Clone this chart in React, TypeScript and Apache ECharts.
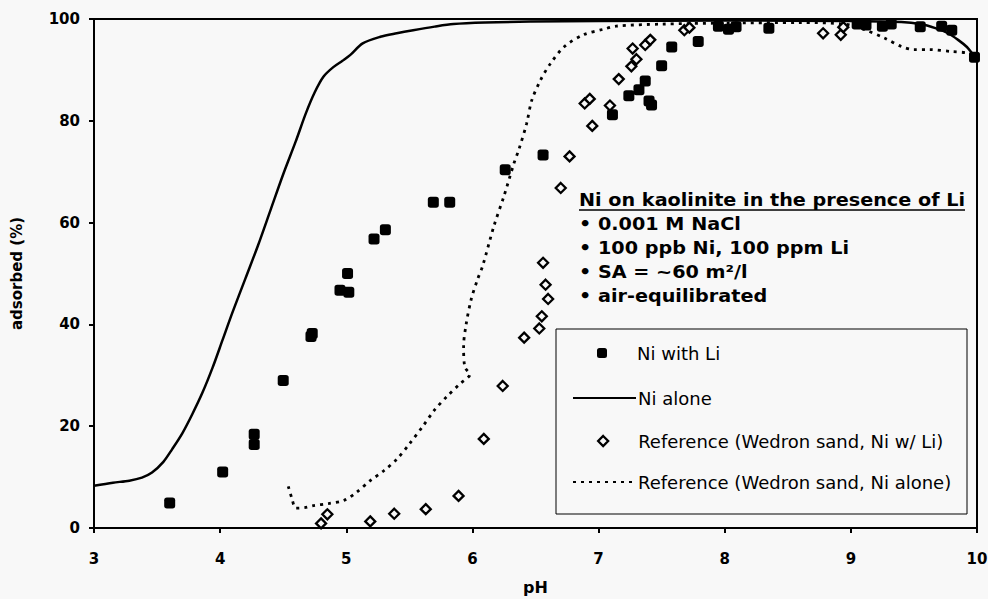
import React, { useEffect, useRef } from "react";
import * as echarts from "echarts";

const xTicks = [3, 4, 5, 6, 7, 8, 9, 10];
const yTicks = [0, 20, 40, 60, 80, 100];

const seriesNames = [
  "Ni with Li",
  "Ni alone",
  "Reference (Wedron sand, Ni w/ Li)",
  "Reference (Wedron sand, Ni alone)",
];

const niWithLi: [number, number][] = [
  [3.6, 4.9], [4.02, 11.0], [4.27, 18.4], [4.27, 16.4], [4.5, 29.0],
  [4.72, 37.6], [4.73, 38.2], [4.95, 46.7], [5.01, 50.0], [5.02, 46.3],
  [5.22, 56.8], [5.31, 58.6], [5.69, 64.0], [5.82, 64.0], [6.26, 70.4],
  [6.56, 73.3], [7.11, 81.2], [7.24, 84.9], [7.32, 86.1], [7.37, 87.8],
  [7.4, 83.9], [7.42, 83.1], [7.5, 90.8], [7.58, 94.5], [7.79, 95.6],
  [7.95, 98.6], [8.03, 98.0], [8.09, 98.5], [8.35, 98.2], [9.05, 99.0],
  [9.12, 98.8], [9.25, 98.6], [9.32, 99.0], [9.55, 98.5], [9.72, 98.6],
  [9.8, 97.8], [9.98, 92.5],
];

const niAlone: [number, number][] = [
  [3.0, 8.3], [3.15, 8.9], [3.28, 9.3], [3.38, 9.9], [3.46, 10.9],
  [3.55, 13.0], [3.62, 15.5], [3.7, 18.6], [3.78, 22.4], [3.86, 26.6],
  [3.94, 31.5], [4.02, 37.0], [4.1, 42.5], [4.2, 49.0], [4.3, 55.5],
  [4.4, 62.5], [4.5, 69.5], [4.6, 76.0], [4.68, 81.5], [4.75, 85.6],
  [4.82, 88.7], [4.9, 90.6], [4.97, 91.8], [5.03, 92.9], [5.13, 95.2],
  [5.27, 96.5], [5.4, 97.2], [5.53, 97.8], [5.7, 98.5], [5.85, 99.0],
  [6.1, 99.3], [6.46, 99.5], [7.0, 99.6], [8.0, 99.7], [9.0, 99.6],
  [9.4, 99.4], [9.55, 99.0], [9.67, 98.2], [9.77, 97.2], [9.85, 95.9],
  [9.92, 94.5], [9.96, 93.3], [10.0, 92.3],
];

const refWithLi: [number, number][] = [
  [4.8, 0.9], [4.85, 2.7], [5.19, 1.3], [5.38, 2.8], [5.63, 3.7],
  [5.89, 6.3], [6.09, 17.5], [6.24, 27.9], [6.41, 37.4], [6.53, 39.2],
  [6.55, 41.6], [6.6, 45.0], [6.58, 47.8], [6.56, 52.1], [6.7, 66.8],
  [6.77, 73.0], [6.95, 79.0], [6.89, 83.4], [6.93, 84.3], [7.09, 83.0],
  [7.16, 88.2], [7.26, 90.7], [7.3, 92.1], [7.27, 94.2], [7.37, 94.9],
  [7.41, 95.9], [7.68, 97.8], [7.72, 98.3], [8.78, 97.2], [8.92, 96.9],
  [8.94, 98.4],
];

const refAlone: [number, number][] = [
  [4.54, 8.2], [4.57, 5.7], [4.6, 3.9], [4.67, 4.0], [4.74, 4.4],
  [4.86, 4.8], [4.98, 5.4], [5.08, 7.0], [5.19, 9.3], [5.3, 11.3],
  [5.4, 13.5], [5.5, 16.5], [5.61, 20.1], [5.7, 23.2], [5.8, 25.9],
  [5.9, 28.3], [5.98, 30.2], [5.94, 31.6], [5.93, 35.7], [5.95, 40.0],
  [5.99, 44.9], [6.04, 48.8], [6.08, 51.4], [6.17, 59.3], [6.25, 65.2],
  [6.33, 71.7], [6.37, 74.5], [6.43, 79.5], [6.47, 84.0], [6.54, 88.0],
  [6.62, 91.3], [6.73, 94.6], [6.88, 96.9], [7.04, 98.0], [7.14, 98.6],
  [7.5, 99.0], [8.0, 99.2], [8.6, 99.3], [8.95, 99.0], [9.1, 98.0],
  [9.27, 96.2], [9.4, 94.6], [9.5, 94.0], [9.62, 94.0], [9.8, 93.6],
  [9.93, 93.3], [10.0, 92.5],
];

const noteTitle = "Ni on kaolinite in the presence of Li";
const noteLines = [
  "• 0.001 M NaCl",
  "• 100 ppb Ni, 100 ppm Li",
  "• SA = ~60 m²/l",
  "• air-equilibrated",
];

const BG = "#f8f8f8";
const FONT = "DejaVu Sans";

export default function App() {
  const ref = useRef<HTMLDivElement>(null);

  useEffect(() => {
    if (!ref.current) return;
    const chart = echarts.init(ref.current, null, { renderer: "svg" });

    const legendTops = [344, 389, 432, 473];
    const legendCfg: any[] = [
      { left: 597, itemWidth: 10, itemHeight: 10, pad: 25, itemStyle: { color: "#000", opacity: 1 } },
      { left: 572, itemWidth: 63, itemHeight: 10, pad: -3, itemStyle: { opacity: 0 } },
      { left: 597, itemWidth: 10, itemHeight: 10, pad: 25, itemStyle: { color: BG, borderColor: "#000", borderWidth: 2.3, opacity: 1 } },
      { left: 572, itemWidth: 63, itemHeight: 10, pad: -3, itemStyle: { opacity: 0 } },
    ];

    const option: any = {
      animation: false,
      backgroundColor: BG,
      grid: {
        left: 94,
        right: 11,
        top: 19,
        bottom: 71,
        containLabel: false,
        outerBoundsMode: "none",
        show: true,
        borderColor: "#000",
        borderWidth: 2,
        backgroundColor: "transparent",
      },
      xAxis: {
        type: "value",
        min: xTicks[0],
        max: xTicks[xTicks.length - 1],
        interval: 1,
        name: "pH",
        nameLocation: "middle",
        nameGap: 51,
        nameTextStyle: { fontFamily: FONT, fontWeight: "bold", fontSize: 16, color: "#000" },
        axisLine: { lineStyle: { color: "#000", width: 2 } },
        axisTick: { show: true, length: 5, lineStyle: { color: "#000", width: 2 } },
        axisLabel: { fontFamily: FONT, fontWeight: "bold", fontSize: 15, color: "#000", margin: 23 },
        splitLine: { show: false },
      },
      yAxis: {
        type: "value",
        min: yTicks[0],
        max: yTicks[yTicks.length - 1],
        interval: 20,
        name: "adsorbed (%)",
        nameLocation: "middle",
        nameGap: 70,
        nameTextStyle: { fontFamily: FONT, fontWeight: "bold", fontSize: 15, color: "#000" },
        axisLine: { show: true, lineStyle: { color: "#000", width: 2 } },
        axisTick: { show: true, length: 5, lineStyle: { color: "#000", width: 2 } },
        axisLabel: { fontFamily: FONT, fontWeight: "bold", fontSize: 15, color: "#000", margin: 14 },
        splitLine: { show: false },
      },
      legend: seriesNames.map((n, i) => ({
        data: [n],
        orient: "vertical",
        left: legendCfg[i].left,
        top: legendTops[i],
        padding: 0,
        itemWidth: legendCfg[i].itemWidth,
        itemHeight: legendCfg[i].itemHeight,
        selectedMode: false,
        itemStyle: legendCfg[i].itemStyle,
        textStyle: {
          fontFamily: FONT,
          fontSize: 18,
          color: "#000",
          padding: [0, 0, 0, legendCfg[i].pad],
        },
      })),
      graphic: [
        {
          type: "rect",
          shape: { x: 556, y: 329, width: 411, height: 185 },
          style: { fill: "none", stroke: "#000", lineWidth: 1 },
          z: 10,
        },
        {
          type: "text",
          x: 579,
          y: 200,
          scaleX: 1.13,
          style: {
            text: noteTitle,
            font: `bold 17px "${FONT}"`,
            fill: "#000",
            verticalAlign: "middle",
          },
          z: 10,
        },
        {
          type: "line",
          shape: { x1: 579, y1: 210, x2: 965, y2: 210 },
          style: { stroke: "#000", lineWidth: 1.5 },
          z: 10,
        },
        ...noteLines.map((t, i) => ({
          type: "text",
          x: 579,
          y: 224 + i * 24,
          scaleX: 1.13,
          style: {
            text: t,
            font: `bold 17px "${FONT}"`,
            fill: "#000",
            verticalAlign: "middle",
          },
          z: 10,
        })),
      ],
      series: [
        {
          name: seriesNames[0],
          type: "scatter",
          data: niWithLi,
          symbol: "roundRect",
          symbolSize: 11,
          itemStyle: { color: "#000", opacity: 1 },
          z: 4,
        },
        {
          name: seriesNames[1],
          type: "line",
          data: niAlone,
          symbol: "none",
          showSymbol: false,
          smooth: 0.3,
          lineStyle: { color: "#000", width: 2.5 },
          itemStyle: { color: "#000" },
          z: 3,
        },
        {
          name: seriesNames[2],
          type: "scatter",
          data: refWithLi,
          symbol: "diamond",
          symbolSize: 10,
          itemStyle: { color: BG, borderColor: "#000", borderWidth: 2.3, opacity: 1 },
          z: 5,
        },
        {
          name: seriesNames[3],
          type: "line",
          data: refAlone,
          symbol: "none",
          showSymbol: false,
          smooth: 0.3,
          lineStyle: { color: "#000", width: 2.8, type: [3, 5] },
          itemStyle: { color: "#000" },
          z: 2,
        },
      ],
    };

    chart.setOption(option);
    return () => chart.dispose();
  }, []);

  return (
    <div
      ref={ref}
      style={{ position: "fixed", left: 0, top: 0, width: 988, height: 599, background: BG }}
    />
  );
}
